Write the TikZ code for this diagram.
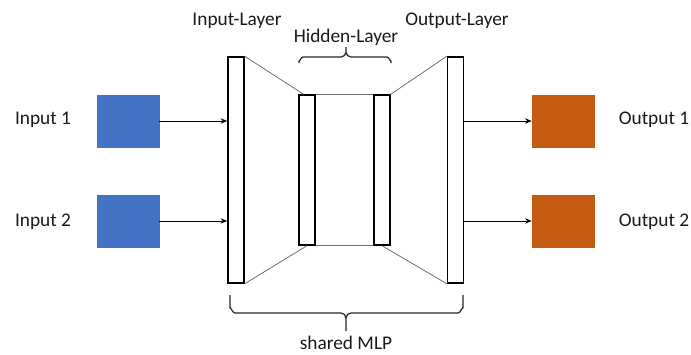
\documentclass[tikz,border=0pt]{standalone}
\usepackage{fontspec}
\setmainfont{Carlito}
\usetikzlibrary{arrows.meta,calc}
\definecolor{inblue}{HTML}{4472C4}
\definecolor{outorange}{HTML}{C55A11}
\definecolor{wire}{HTML}{707070}
\begin{document}
\begin{tikzpicture}[x=0.75pt,y=-0.75pt,
  every node/.style={font=\fontsize{14.5}{17}\selectfont, text=black!90},
  layer/.style={draw=black, line width=1.1pt, fill=white, minimum width=12pt, inner sep=0pt},
  databox/.style={minimum width=46.5pt, minimum height=39pt, inner sep=0pt},
  conn/.style={draw=wire, line width=0.6pt},
  feed/.style={draw=black, line width=0.75pt, -{Stealth[length=5pt,width=4pt]}},
  bracepath/.style={draw=black!85, line width=0.9pt, line join=round}]
\useasboundingbox (0,0) rectangle (691,354);

% data boxes
\node[databox, fill=inblue, draw=inblue] (in1) at (128,121) {};
\node[databox, fill=inblue, draw=inblue] (in2) at (128,221) {};
\node[databox, fill=outorange, draw=outorange] (out1) at (563,121) {};
\node[databox, fill=outorange, draw=outorange] (out2) at (563,221) {};

% labels of the data boxes
\node (lin1) at (43,120) {Input 1};
\node (lin2) at (43,222) {Input 2};
\node (lout1) at (654,120) {Output 1};
\node (lout2) at (654,222) {Output 2};

% network layers
\node[layer, minimum height=169.5pt] (inl) at (236,170) {};
\node[layer, minimum height=112.5pt] (hidl) at (307,170) {};
\node[layer, minimum height=112.5pt] (hidr) at (382,170) {};
\node[layer, minimum height=169.5pt] (outl) at (455.5,170) {};

% funnel lines between the layers
\draw[conn] (inl.north east) -- ($(hidl.north west)!0.3!(hidl.north east)$);
\draw[conn] (inl.south east) -- (hidl.south);
\draw[conn] (hidl.north east) -- (hidr.north west);
\draw[conn] (hidl.south east) -- (hidr.south west);
\draw[conn] (hidr.north east) -- (outl.north west);
\draw[conn] (hidr.south) -- (outl.south west);

% data flow
\draw[feed] (in1.east) -- (in1.east -| inl.west);
\draw[feed] (in2.east) -- (in2.east -| inl.west);
\draw[feed] (out1.west -| outl.east) -- (out1.west);
\draw[feed] (out2.west -| outl.east) -- (out2.west);

% layer titles
\node (tin) at (237,21) {Input-Layer};
\node (thid) at (346,37) {Hidden-Layer};
\node (tout) at (457,21) {Output-Layer};
\node (tmlp) at (346,343) {shared MLP};

% brace over the hidden layers
\draw[bracepath] (299,63) -- (299,61) to[out=-90,in=180] (303,57) -- (341,57)
  to[out=0,in=-90] (346,52) -- (346,47);
\draw[bracepath] (391,63) -- (391,61) to[out=-90,in=0] (387,57) -- (351,57)
  to[out=180,in=-90] (346,52);

% brace under the whole network
\draw[bracepath] (230,295) -- (230,308) to[out=90,in=180] (235,313) -- (341,313)
  to[out=0,in=90] (346,318) -- (346,331);
\draw[bracepath] (463,295) -- (463,308) to[out=90,in=0] (458,313) -- (351,313)
  to[out=180,in=90] (346,318);
\end{tikzpicture}
\end{document}
